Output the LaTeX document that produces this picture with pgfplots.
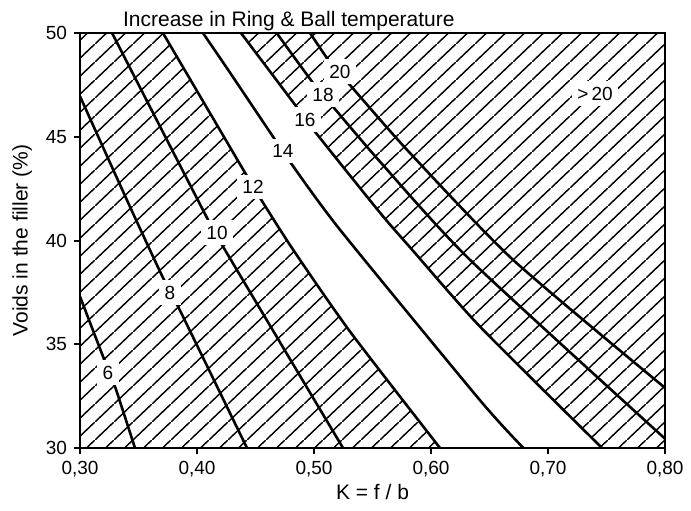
\documentclass[border=0pt]{standalone}
\usepackage{fontspec}
\setmainfont{Liberation Sans}
\usepackage{pgfplots}
\pgfplotsset{compat=1.18}
\usetikzlibrary{patterns}

% one diagonal per tile, so the lines join from tile to tile
\pgfdeclarepatternformonly{diaghatch}{\pgfpoint{0pt}{0pt}}{\pgfpoint{9.5pt}{8.8pt}}{\pgfpoint{9.5pt}{8.8pt}}{
    \pgfsetlinewidth{0.75pt}
    \pgfpathmoveto{\pgfpoint{-0.95pt}{-0.88pt}}
    \pgfpathlineto{\pgfpoint{10.45pt}{9.68pt}}
    \pgfusepath{stroke}
}

\tikzset{hatch/.style={draw=none, pattern=diaghatch, pattern color=black}}
\tikzset{iso/.style={black, line width=1.3pt, mark=none, smooth, tension=0.4}}
\tikzset{lab/.style={fill=white, inner sep=2.8pt, font=\fontsize{9.5}{10}\selectfont}}

\begin{document}
\begin{tikzpicture}
\begin{axis}[
    scale only axis,
    width=292.5pt, height=207.5pt,
    xmin=0.30, xmax=0.80,
    ymin=30, ymax=50,
    xtick={0.3,0.4,0.5,0.6,0.7,0.8},
    ytick={30,35,40,45,50},
    xtick pos=bottom, ytick pos=left,
    tick align=outside,
    major tick length=3pt,
    axis line style={line width=1.1pt},
    tick style={line width=1pt, black},
    /pgf/number format/assume math mode=true,
    xticklabel style={/pgf/number format/.cd, fixed, fixed zerofill, precision=2, use comma},
    ticklabel style={font=\fontsize{9.5}{10}\selectfont},
    title={Increase in Ring \& Ball temperature},
    every axis title shift=0pt,
    title style={at={(axis description cs:0.357,1)}, anchor=base, yshift=3.5pt, font=\fontsize{10.5}{12}\selectfont},
    xlabel={K = f / b},
    xlabel style={at={(axis description cs:0.5,-0.106)}, anchor=center, font=\fontsize{10.5}{12}\selectfont},
    ylabel={Voids in the filler (\%)},
    ylabel style={at={(axis description cs:-0.099,0.5)}, anchor=center, font=\fontsize{10.5}{12}\selectfont},
    axis on top,
    clip=true,
]
% hatched zone below 12
\addplot[hatch] coordinates {
    (0.30,30) (0.30,50) (0.3709,50) (0.4410,43.27) (0.4538,42.06)
    (0.4821,39.56) (0.5308,35.61) (0.6077,30)
} -- cycle;
% hatched zone above 16
\addplot[hatch] coordinates {
    (0.4376,50) (0.80,50) (0.80,30) (0.7462,30) (0.6419,35.85)
    (0.5838,39.56) (0.5564,41.34) (0.5009,45.24) (0.4838,46.54)
} -- cycle;

% iso-lines
\addplot[iso] coordinates {(0.30,37.30) (0.3197,34.41) (0.3299,32.96) (0.347,30)};
\addplot[iso] coordinates {(0.30,46.95) (0.3427,41.63) (0.3709,38.21) (0.3838,36.82) (0.4427,30)};
\addplot[iso] coordinates {(0.3274,50) (0.4094,41.0) (0.4222,39.71) (0.5248,30)};
\addplot[iso] coordinates {(0.3709,50) (0.4410,43.27) (0.4538,42.06) (0.4821,39.56) (0.5308,35.61) (0.6077,30)};
\addplot[iso] coordinates {(0.4051,50) (0.4282,48.09) (0.4650,45.00) (0.4795,43.79) (0.5222,40.52) (0.6419,32.30) (0.679,30)};
\addplot[iso] coordinates {(0.4376,50) (0.4838,46.54) (0.5009,45.24) (0.5564,41.34) (0.5838,39.56) (0.6419,35.85) (0.7462,30)};
\addplot[iso] coordinates {(0.4681,50) (0.4991,47.60) (0.5162,46.45) (0.5564,43.80) (0.6333,39.07) (0.80,30.45)};
\addplot[iso] coordinates {(0.4966,50) (0.5162,48.38) (0.5291,47.60) (0.5795,44.37) (0.6701,39.07) (0.80,32.90)};

% labels of the iso-lines
\node[lab] at (axis cs:0.3239,33.63) {6};
\node[lab] at (axis cs:0.3769,37.48) {8};
\node[lab] at (axis cs:0.4171,40.38) {10};
\node[lab] at (axis cs:0.4479,42.59) {12};
\node[lab] at (axis cs:0.4735,44.33) {14};
\node[lab] at (axis cs:0.4923,45.82) {16};
\node[lab] at (axis cs:0.5077,47.03) {18};
\node[lab] at (axis cs:0.5222,48.14) {20};
\node[lab] at (axis cs:0.7402,47.07) {{>}\,20};
\end{axis}
\pgfresetboundingbox
\path[use as bounding box] (-40pt,-31pt) rectangle (305.5pt,224pt);
\end{tikzpicture}
\end{document}
